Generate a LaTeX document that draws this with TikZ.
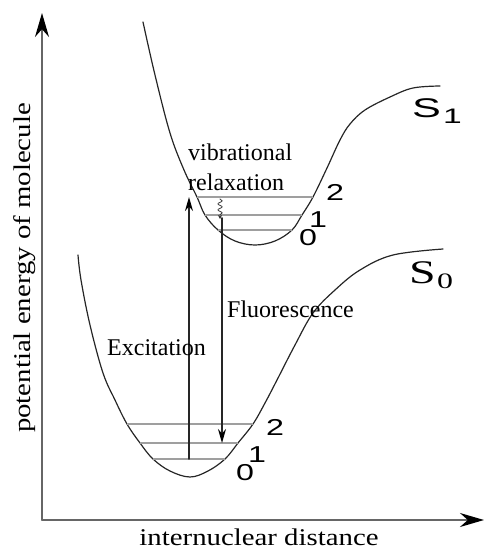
\documentclass[tikz,border=0pt]{standalone}
\usepackage{fontspec}
\setmainfont{Liberation Serif}
\newfontfamily\axisfont[FakeStretch=1.2]{Liberation Serif}
\newfontfamily\wideserif[FakeStretch=1.45]{Liberation Serif}
\newfontfamily\widesans[FakeStretch=1.6]{Liberation Sans}
\newfontfamily\levelfont[FakeStretch=1.4]{Liberation Sans}
\usetikzlibrary{arrows.meta, positioning, calc, decorations.pathmorphing}

\begin{document}
\begin{tikzpicture}[x=1pt, y=-1pt, line join=round, line cap=round,
    curve/.style={black!85, line width=1.2pt},
    level/.style={gray!75, line width=1.8pt, line cap=butt},
    axis/.style={black!60, line width=1.6pt, -{Stealth[length=24pt, width=14pt, black]}},
    trans/.style={black!85, line width=1.8pt, -{Stealth[length=14pt, width=8pt, black]}},
    lbl/.style={inner sep=0pt, anchor=base west, font=\fontsize{24}{28}\selectfont},
    num/.style={inner sep=0pt, anchor=base west, font=\levelfont\fontsize{23}{26}\selectfont}]
    \useasboundingbox (0,0) rectangle (485,549);

    % axes
    \coordinate (O) at (42,520);
    \coordinate (Ytop) at (42,13);
    \coordinate (Xend) at (484,520);
    \draw[axis] (O) -- (Ytop);
    \draw[axis] (O) -- (Xend);
    \node[rotate=90, anchor=base, inner sep=0pt, font=\axisfont\fontsize{24}{28}\selectfont] (ylab) at (30,268) {potential energy of molecule};
    \node[anchor=base, inner sep=0pt, font=\axisfont\fontsize{24}{28}\selectfont] (xlab) at (259,545) {internuclear distance};

    % potential curves
    \draw[curve] plot[smooth, tension=0.6] coordinates {(143,22) (155,75) (170,133) (184,170) (197,197) (205,215) (218,230) (235,241) (255,245) (275,241) (292,230) (302,215) (313,197) (327,168) (340,140) (350,124) (365,110) (390,97) (413,88) (440,86)};
    \draw[curve] plot[smooth, tension=0.6] coordinates {(78,255) (81,280) (90,325) (103,373) (115,400) (127,424) (140,443) (153,459) (170,471) (190,477) (208,471) (225,459) (238,443) (253,424) (265,403) (277,380) (295,345) (313,313) (335,290) (360,270) (393,255) (443,249)};

    % vibrational levels of S1
    \coordinate (U2a) at (197,197); \coordinate (U2b) at (313,197);
    \coordinate (U1a) at (205,215); \coordinate (U1b) at (302,215);
    \coordinate (U0a) at (218,230); \coordinate (U0b) at (292,230);
    \draw[level] (U2a) -- (U2b);
    \draw[level] (U1a) -- (U1b);
    \draw[level] (U0a) -- (U0b);

    % vibrational levels of S0
    \coordinate (L2a) at (127,424); \coordinate (L2b) at (253,424);
    \coordinate (L1a) at (140,443); \coordinate (L1b) at (238,443);
    \coordinate (L0a) at (153,459); \coordinate (L0b) at (225,459);
    \draw[level] (L2a) -- (L2b);
    \draw[level] (L1a) -- (L1b);
    \draw[level] (L0a) -- (L0b);

    % transitions
    \coordinate (exA) at (189,459);
    \coordinate (exB) at (189,197);
    \draw[trans] (exA) -- (exB);
    \coordinate (flA) at (222,218);
    \coordinate (flB) at (222,443);
    \draw[trans] (flA) -- (flB);
    \coordinate (vrA) at (220,199);
    \coordinate (vrB) at (220,219);
    \draw[black!80, line width=0.8pt, decorate, decoration={snake, amplitude=2.2pt, segment length=6pt, post length=4pt}, -{Stealth[length=4pt, width=4pt]}] (vrA) -- (vrB);

    % labels
    \node[lbl] (vib) at (188,160) {vibrational};
    \node[lbl] (rel) at (188,190) {relaxation};
    \node[lbl] (exc) at (107,355) {Excitation};
    \node[lbl] (flu) at (227,317) {Fluorescence};

    \node[inner sep=0pt, anchor=base west, font=\widesans\fontsize{27}{30}\selectfont] (Sone) at (412,117) {S};
    \node[inner sep=0pt, anchor=base west, font=\widesans\fontsize{21}{24}\selectfont] (Sonesub) at (443,123) {1};
    \node[inner sep=0pt, anchor=base west, font=\wideserif\fontsize{33}{36}\selectfont] (Szero) at (409,283) {S};
    \node[inner sep=0pt, anchor=base west, font=\wideserif\fontsize{22}{24}\selectfont] (Szerosub) at (437,288) {0};

    \node[num] (u2) at (326,200) {2};
    \node[num] (u1) at (309,227) {1};
    \node[num] (u0) at (299,245) {0};
    \node[num] (l2) at (266,435) {2};
    \node[num] (l1) at (248,462) {1};
    \node[num] (l0) at (236,480) {0};
\end{tikzpicture}
\end{document}
